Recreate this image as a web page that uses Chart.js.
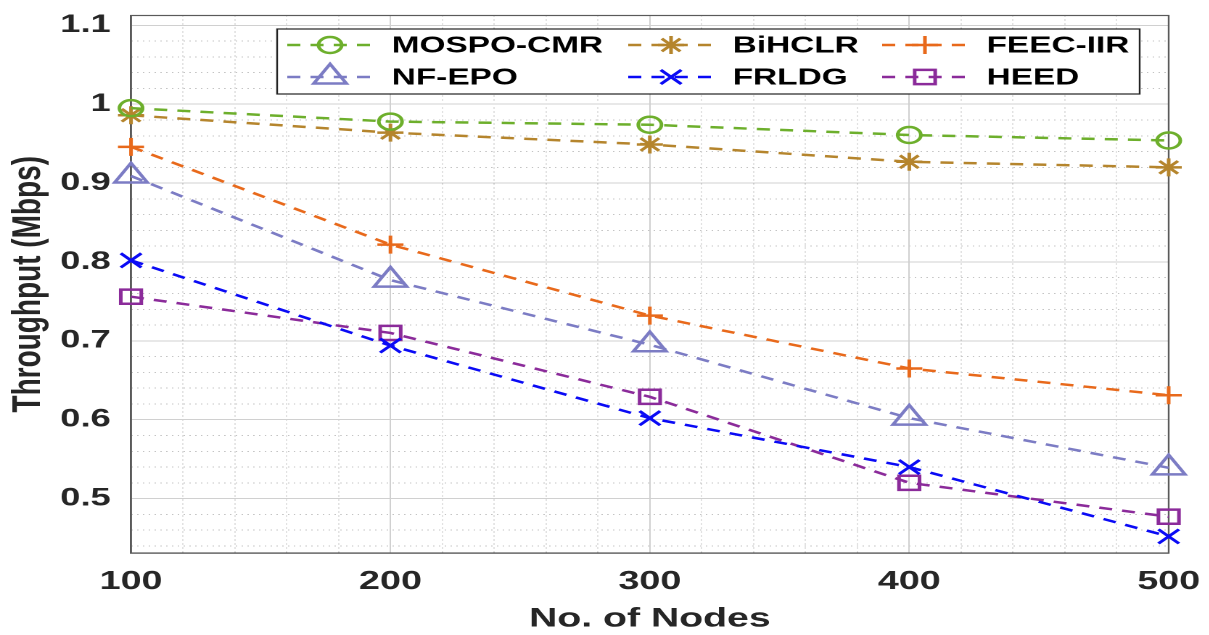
<!DOCTYPE html>
<html>
<head>
<meta charset="utf-8">
<script src="https://cdn.jsdelivr.net/npm/chart.js@4.4.1/dist/chart.umd.min.js"></script>
<style>
  html, body { margin: 0; padding: 0; background: #fff; overflow: hidden; }
  #wrap { position: absolute; left: 0; top: 0; height: 635px; transform-origin: 0 0; }
</style>
</head>
<body>
<div id="wrap"><canvas id="myChart"></canvas></div>
<script>
// data
const nodes = [100, 200, 300, 400, 500];
const mospoCmr = [0.995, 0.978, 0.974, 0.961, 0.954];
const bihclr   = [0.986, 0.964, 0.949, 0.927, 0.920];
const feecIir  = [0.946, 0.822, 0.732, 0.665, 0.631];
const nfEpo    = [0.909, 0.777, 0.695, 0.602, 0.539];
const frldg    = [0.802, 0.694, 0.602, 0.540, 0.452];
const heed     = [0.756, 0.710, 0.629, 0.520, 0.477];
const yTicks   = [0.5, 0.6, 0.7, 0.8, 0.9, 1, 1.1];

// the original picture is stretched sideways, so draw narrow and scale
const STRETCH = 1.45;
const W = 1209 / STRETCH;
const wrap = document.getElementById('wrap');
wrap.style.width = W + 'px';
wrap.style.transform = 'scaleX(' + STRETCH + ')';

const FONT = "'Liberation Sans', Arial, Helvetica, sans-serif";
const AXIS_COLOR = '#5a5a5a';

function pts(vals) {
    return nodes.map(function (n, i) { return { x: n, y: vals[i] }; });
}

function series(label, vals, color, style, radius) {
    return {
        label: label,
        data: pts(vals),
        borderColor: color,
        backgroundColor: color,
        borderWidth: 2.5,
        borderDash: [9, 7],
        tension: 0,
        pointStyle: style,
        pointRadius: radius,
        pointBorderWidth: 2.5,
        pointBorderColor: color,
        pointBackgroundColor: 'rgba(0,0,0,0)',
        clip: false
    };
}

// box round the plot area
const frame = {
    id: 'frame',
    beforeDatasetsDraw(chart) {
        const a = chart.chartArea, ctx = chart.ctx;
        ctx.save();
        ctx.strokeStyle = AXIS_COLOR;
        ctx.lineWidth = 1.2;
        ctx.strokeRect(a.left, a.top, a.right - a.left, a.bottom - a.top);
        ctx.restore();
    }
};

// legend inside the plot, 3 columns x 2 rows
const boxLegend = {
    id: 'boxLegend',
    afterDraw(chart) {
        const ctx = chart.ctx;
        const bx = 191, by = 29, bw = 594.5, bh = 65;
        const cols = [198, 433, 608];
        const rows = [45, 77];
        const lineLen = 59, textGap = 13;
        ctx.save();
        ctx.fillStyle = '#fff';
        ctx.fillRect(bx, by, bw, bh);
        ctx.strokeStyle = '#222';
        ctx.lineWidth = 1.2;
        ctx.strokeRect(bx, by, bw, bh);
        chart.data.datasets.forEach(function (ds, i) {
            const x0 = cols[i % 3], y = rows[Math.floor(i / 3)];
            ctx.strokeStyle = ds.borderColor;
            ctx.lineWidth = ds.borderWidth;
            ctx.setLineDash(ds.borderDash);
            ctx.beginPath();
            ctx.moveTo(x0, y);
            ctx.lineTo(x0 + lineLen, y);
            ctx.stroke();
            ctx.setLineDash([]);
            ctx.fillStyle = 'rgba(0,0,0,0)';
            if (Chart.helpers && Chart.helpers.drawPoint) {
                Chart.helpers.drawPoint(ctx, {
                    pointStyle: ds.pointStyle,
                    radius: ds.pointRadius,
                    rotation: 0,
                    borderWidth: ds.pointBorderWidth
                }, x0 + lineLen / 2, y);
            }
            ctx.fillStyle = '#000';
            ctx.font = 'bold 23px ' + FONT;
            ctx.textBaseline = 'middle';
            ctx.textAlign = 'left';
            ctx.fillText(ds.label, x0 + lineLen + textGap, y + 1);
        });
        ctx.restore();
    }
};

const chartCanvas = document.getElementById('myChart');

const chartConfig = {
    type: 'line',
    data: {
        datasets: [
            series('MOSPO-CMR', mospoCmr, '#6DAF2C', 'circle', 8),
            series('BiHCLR', bihclr, '#B5852D', 'star', 9),
            series('FEEC-IIR', feecIir, '#E8691B', 'cross', 9),
            series('NF-EPO', nfEpo, '#7C7CC4', 'triangle', 13),
            series('FRLDG', frldg, '#0A0AF5', 'crossRot', 10),
            series('HEED', heed, '#8B2B9A', 'rect', 10)
        ]
    },
    options: {
        responsive: true,
        maintainAspectRatio: false,
        animation: false,
        devicePixelRatio: 2,
        layout: { padding: { left: 0, right: W - 805.5, top: 9, bottom: 0 } },
        plugins: { legend: { display: false }, tooltip: { enabled: false } },
        scales: {
            xMinor: {
                type: 'linear', position: 'bottom', min: 100, max: 500,
                ticks: { display: false, stepSize: 20 },
                grid: { color: '#c4c4c4', lineWidth: 1, drawTicks: false, z: -1 },
                border: { display: false, dash: [1, 3] },
                afterFit: function (s) { s.height = 0; s.paddingLeft = 0; s.paddingRight = 0; }
            },
            yMinor: {
                type: 'linear', position: 'left', min: 0.431, max: 1.1125,
                ticks: { display: false, stepSize: 0.02, includeBounds: false },
                grid: { color: '#c4c4c4', lineWidth: 1, drawTicks: false, z: -1 },
                border: { display: false, dash: [1, 3] },
                afterFit: function (s) { s.width = 0; s.paddingTop = 0; s.paddingBottom = 0; }
            },
            x: {
                type: 'linear', position: 'bottom', min: 100, max: 500,
                ticks: {
                    stepSize: 100, padding: 13, color: '#262626',
                    font: { family: FONT, size: 26, weight: 'bold' }
                },
                grid: { color: '#d0d0d0', lineWidth: 1, drawTicks: false },
                border: { display: true, color: AXIS_COLOR, width: 1.2 },
                title: {
                    display: true, text: 'No. of Nodes', color: '#262626',
                    font: { family: FONT, size: 27, weight: 'bold' },
                    padding: { top: 0, bottom: 0 }
                },
                afterFit: function (s) { s.height = 82; s.paddingLeft = 0; s.paddingRight = 0; }
            },
            y: {
                type: 'linear', position: 'left', min: 0.431, max: 1.1125,
                afterBuildTicks: function (s) {
                    s.ticks = yTicks.map(function (v) { return { value: v }; });
                },
                ticks: {
                    padding: 14, color: '#262626',
                    font: { family: FONT, size: 25, weight: 'bold' },
                    callback: function (v) { return String(+v.toFixed(1)); }
                },
                grid: { color: '#d0d0d0', lineWidth: 1, drawTicks: false },
                border: { display: true, color: AXIS_COLOR, width: 1.2 },
                title: {
                    display: true, text: 'Throughput (Mbps)', color: '#262626',
                    font: { family: FONT, size: 28, weight: 'bold' },
                    padding: { top: 3, bottom: 0 }
                },
                afterFit: function (s) { s.width = 90.3; s.paddingTop = 0; s.paddingBottom = 0; }
            }
        }
    },
    plugins: [frame, boxLegend]
};

const myChart = new Chart(chartCanvas, chartConfig);
</script>
</body>
</html>
